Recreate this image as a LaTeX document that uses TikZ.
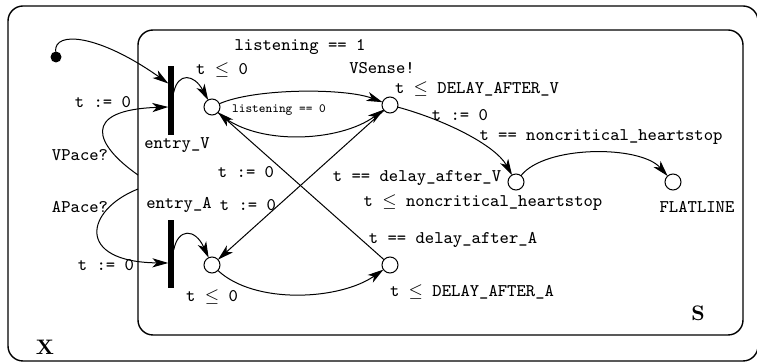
\documentclass[tikz,border=0pt]{standalone}
\usepackage{fontspec}
\usetikzlibrary{arrows.meta,calc}
\begin{document}
\begin{tikzpicture}[x=0.5pt,y=-0.5pt,
  every node/.style={inner sep=0pt,outer sep=0pt},
  lbl/.style={font=\fontsize{8.9}{10}\selectfont\ttfamily},
  small/.style={font=\fontsize{6.3}{7}\selectfont\ttfamily},
  big/.style={font=\fontsize{10.5}{12}\selectfont\bfseries},
  loc/.style={circle,draw,line width=0.5pt,minimum size=8pt,fill=white},
  bar/.style={rectangle,fill=black,minimum width=2.7pt},
  arr/.style={line width=0.5pt,-{Stealth[length=8pt,width=4.6pt,inset=2.2pt]}},
  boxline/.style={draw,line width=0.7pt,rounded corners=7.5pt}]
\useasboundingbox (0,0) rectangle (757,363);
% boxes
\node[boxline,minimum width=375pt,minimum height=177.5pt] (X) at (383,183.5) {};
\node[boxline,minimum width=302.5pt,minimum height=152.5pt] (S) at (440.5,182.5) {};
\coordinate (sv) at (138,175);
\coordinate (sa) at (138,189);
% locations
\node[circle,fill=black,minimum size=5.5pt] (init) at (56,57) {};
\node[bar,minimum height=34.5pt] (ev) at (171,100.5) {};
\node[bar,minimum height=34pt] (ea) at (171,254) {};
\node[loc] (v0) at (212,107) {};
\node[loc] (v1) at (390,105) {};
\node[loc] (n) at (516,182) {};
\node[loc] (f) at (673,182) {};
\node[loc] (a0) at (212,265) {};
\node[loc] (a1) at (390,265) {};
% edges
\draw[arr] (init) .. controls (54,30) and (100,35) .. ($(ev.west)+(0,-17)$);
\draw[arr] ($(ev.east)+(0,-8)$) .. controls (178,72) and (194,74) .. (v0);
\draw[arr] (sv) .. controls (95,145) and (80,110) .. ($(ev.west)+(0,6.5)$);
\draw[arr] (sa) .. controls (85,210) and (75,262) .. ($(ea.west)+(0,9)$);
\draw[arr] ($(ea.east)+(0,-4)$) .. controls (178,228) and (195,228) .. (a0);
\draw[arr] (v0) .. controls (255,88) and (345,88) .. (v1);
\draw[arr] (v0) .. controls (255,147) and (340,142) .. (v1);
\draw[arr] (v1) .. controls (445,120) and (495,145) .. (n);
\draw[arr] (n) .. controls (545,145) and (640,145) .. (f);
\draw[arr] (a0) .. controls (255,305) and (340,300) .. (a1);
\draw[arr] (a1) -- (v0);
\draw[arr] (v1) -- (a0);
% labels
\node[lbl] (l1) at (300,47) {listening == 1};
\node[lbl] (l2) at (222,70) {t $\leq$ 0};
\node[lbl] (l3) at (382,68) {VSense!};
\node[lbl] (l4) at (477,89) {t $\leq$ DELAY\_AFTER\_V};
\node[lbl] (l5) at (460,115) {t := 0};
\node[lbl] (l6) at (601,137) {t == noncritical\_heartstop};
\node[small] (l7) at (279,110) {listening == 0};
\node[lbl] (l8) at (103,102) {t := 0};
\node[lbl] (l9) at (80,155) {VPace?};
\node[lbl] (l10) at (177,145) {entry\_V};
\node[lbl] (l11) at (246,172) {t := 0};
\node[lbl] (l12) at (417,178) {t == delay\_after\_V};
\node[lbl] (l13) at (483,203) {t $\leq$ noncritical\_heartstop};
\node[lbl] (l14) at (697,207) {FLATLINE};
\node[lbl] (l15) at (80,207) {APace?};
\node[lbl] (l16) at (179,205) {entry\_A};
\node[lbl] (l17) at (248,205) {t := 0};
\node[lbl] (l18) at (453,240) {t == delay\_after\_A};
\node[lbl] (l19) at (106,265) {t := 0};
\node[lbl] (l20) at (212,297) {t $\leq$ 0};
\node[lbl] (l21) at (472,292) {t $\leq$ DELAY\_AFTER\_A};
\node[big] (ls) at (698,313) {S};
\node[big] (lx) at (45,347) {X};
\end{tikzpicture}
\end{document}
